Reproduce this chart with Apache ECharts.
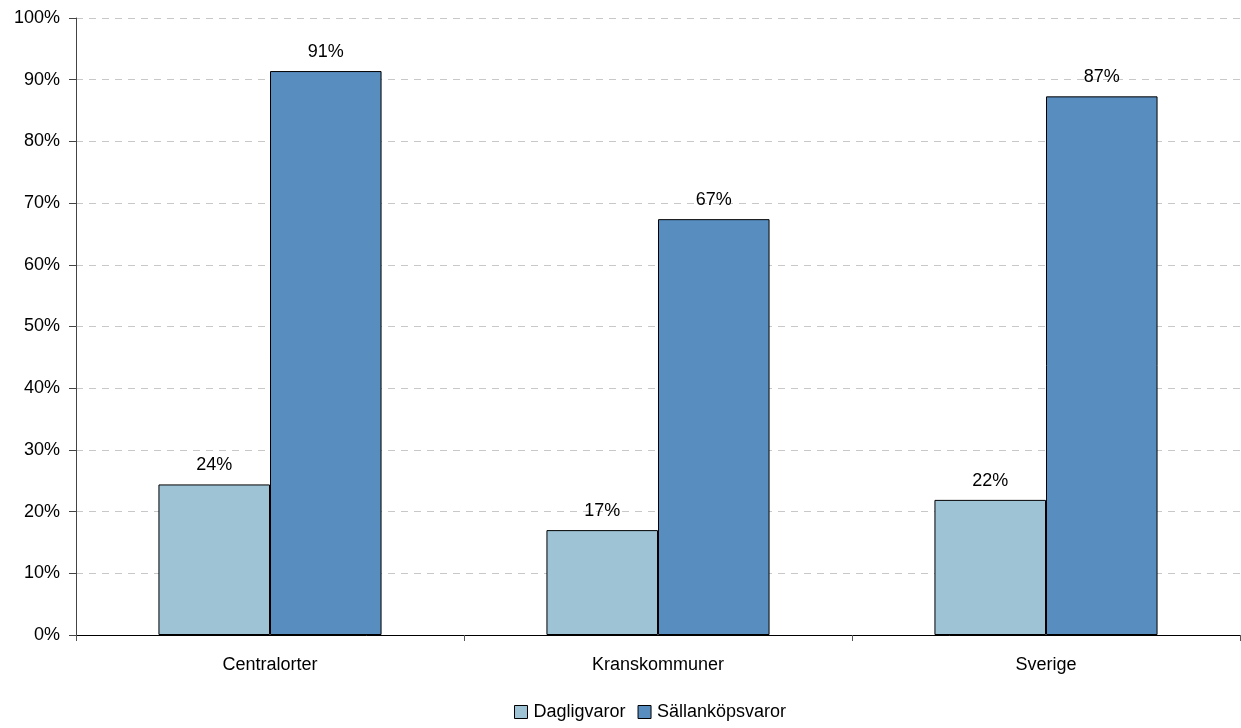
<!DOCTYPE html>
<html>
<head>
<meta charset="utf-8">
<script src="https://cdn.jsdelivr.net/npm/echarts@6/dist/echarts.min.js"></script>
<style>
  html, body { margin: 0; padding: 0; background: #fff; }
  #chart { width: 1241px; height: 728px; }
</style>
</head>
<body>
<div id="chart"></div>
<script>
// Andel per område: dagligvaror och sällanköpsvaror (procent)
const categories = ['Centralorter', 'Kranskommuner', 'Sverige'];
const dagligvaror = [24.4, 17.0, 21.9];
const sallankopsvaror = [91.4, 67.4, 87.3];
const seriesNames = ['Dagligvaror', 'Sällanköpsvaror'];
const seriesColors = ['#9dc3d4', '#588dc0'];

const font = 'Liberation Sans, Arial, sans-serif';
const fontSize = 18;

const chart = echarts.init(document.getElementById('chart'), null, { renderer: 'canvas' });

function barSeries(name, data, color) {
  return {
    name: name,
    type: 'bar',
    data: data,
    barGap: '0%',
    barCategoryGap: '42.5%',
    itemStyle: { color: color, borderColor: '#000', borderWidth: 1 },
    label: {
      show: true,
      position: 'top',
      distance: 10,
      color: '#000',
      fontFamily: font,
      fontSize: fontSize,
      formatter: p => Math.round(p.value) + '%'
    },
    emphasis: { disabled: true }
  };
}

chart.setOption({
  animation: false,
  grid: { left: 76, right: 1, top: 18, bottom: 93 },
  legend: {
    top: 703,
    left: 514,
    padding: 0,
    itemWidth: 13,
    itemHeight: 13,
    itemGap: 12,
    icon: 'rect',
    textStyle: { fontFamily: font, fontSize: fontSize, color: '#000', padding: [0, 0, 0, 1] },
    itemStyle: { borderColor: '#000', borderWidth: 1 },
    data: seriesNames
  },
  xAxis: {
    type: 'category',
    data: categories,
    axisLine: { lineStyle: { color: '#000', width: 1 } },
    axisTick: { show: true, alignWithLabel: false, length: 6, lineStyle: { color: '#555' } },
    axisLabel: { fontFamily: font, fontSize: fontSize, color: '#000', margin: 21 }
  },
  yAxis: {
    type: 'value',
    min: 0,
    max: 100,
    interval: 10,
    axisLine: { show: true, lineStyle: { color: '#444', width: 1 } },
    axisTick: { show: true, length: 7, lineStyle: { color: '#444' } },
    axisLabel: { fontFamily: font, fontSize: fontSize, color: '#000', margin: 16, formatter: v => v + '%' },
    splitLine: { show: true, lineStyle: { color: '#c8c8c8', type: [7, 6], width: 1 } }
  },
  series: [
    barSeries(seriesNames[0], dagligvaror, seriesColors[0]),
    barSeries(seriesNames[1], sallankopsvaror, seriesColors[1])
  ]
});
</script>
</body>
</html>
